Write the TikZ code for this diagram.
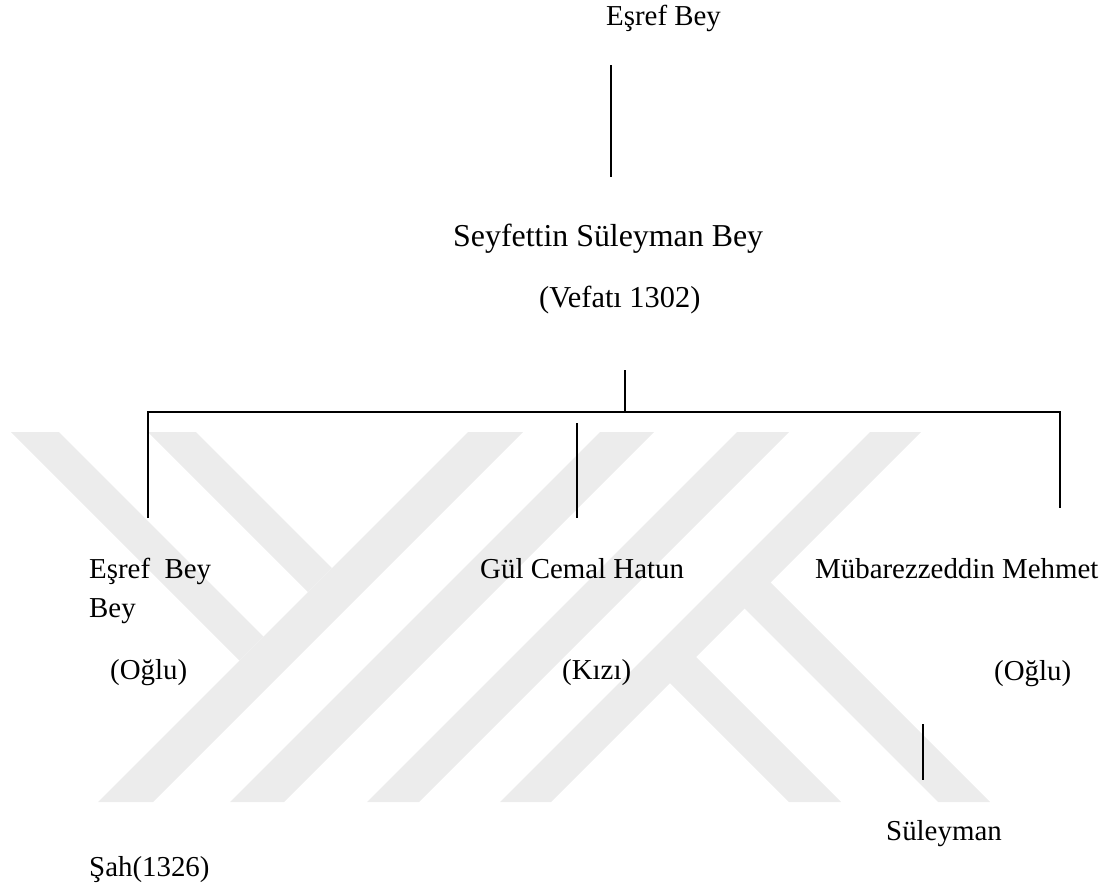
\documentclass[tikz,border=0pt]{standalone}
\usepackage{fontspec}
\setmainfont{Liberation Serif}
\definecolor{wm}{RGB}{236,236,236}
\begin{document}
\begin{tikzpicture}[x=1bp,y=-1bp,
  lbl/.style={inner sep=0pt,anchor=base west,font=\fontsize{29}{34}\selectfont},
  ln/.style={line width=1.3bp,black},
  band/.style={fill=wm,draw=none}]
\useasboundingbox (0,0) rectangle (1110,891);
% watermark
\fill[band] (11,432) -- (59,432) -- (263.5,636.5) -- (239.5,660.5) -- cycle;
\fill[band] (148,432) -- (196,432) -- (332,568) -- (308,592) -- cycle;
\fill[band] (468,432) -- (523,432) -- (153,802) -- (98,802) -- cycle;
\fill[band] (600,432) -- (654,432) -- (284,802) -- (230,802) -- cycle;
\fill[band] (737,432) -- (789,432) -- (419,802) -- (367,802) -- cycle;
\fill[band] (870,432) -- (921,432) -- (551,802) -- (500,802) -- cycle;
\fill[band] (733,597) -- (759,571) -- (990,802) -- (938,802) -- cycle;
\fill[band] (659,672) -- (685,646) -- (841,802) -- (789,802) -- cycle;
% texts
\node[lbl] (top) at (606,25) {Eşref Bey};
\node[lbl,font=\fontsize{32}{38}\selectfont] (sey) at (453,246) {Seyfettin Süleyman Bey};
\node[lbl,font=\fontsize{30.5}{36}\selectfont] (vef) at (539,307) {(Vefatı 1302)};
\node[lbl] (eb1) at (89,578) {Eşref\ \ Bey};
\node[lbl] (eb2) at (89,617) {Bey};
\node[lbl] (og1) at (110,679) {(Oğlu)};
\node[lbl] (gul) at (480,578) {Gül Cemal Hatun};
\node[lbl] (kiz) at (562,679) {(Kızı)};
\node[lbl] (mub) at (815,578) {Mübarezzeddin Mehmet};
\node[lbl] (og2) at (994,680) {(Oğlu)};
\node[lbl] (sul) at (886,840) {Süleyman};
\node[lbl] (sah) at (89,876) {Şah(1326)};
% connector points
\coordinate (a1) at (611,65);
\coordinate (a2) at (611,177);
\coordinate (b1) at (625,370);
\coordinate (b2) at (625,412);
\coordinate (hl) at (148,412);
\coordinate (hr) at (1060,412);
\coordinate (dl) at (148,518);
\coordinate (dr) at (1060,508);
\coordinate (m1) at (577,423);
\coordinate (m2) at (577,518);
\coordinate (s1) at (923,724);
\coordinate (s2) at (923,780);
\draw[ln] (a1) -- (a2);
\draw[ln] (b1) -- (b2);
\draw[ln] (dl) -- (hl) -- (hr) -- (dr);
\draw[ln] (m1) -- (m2);
\draw[ln] (s1) -- (s2);
\end{tikzpicture}
\end{document}
